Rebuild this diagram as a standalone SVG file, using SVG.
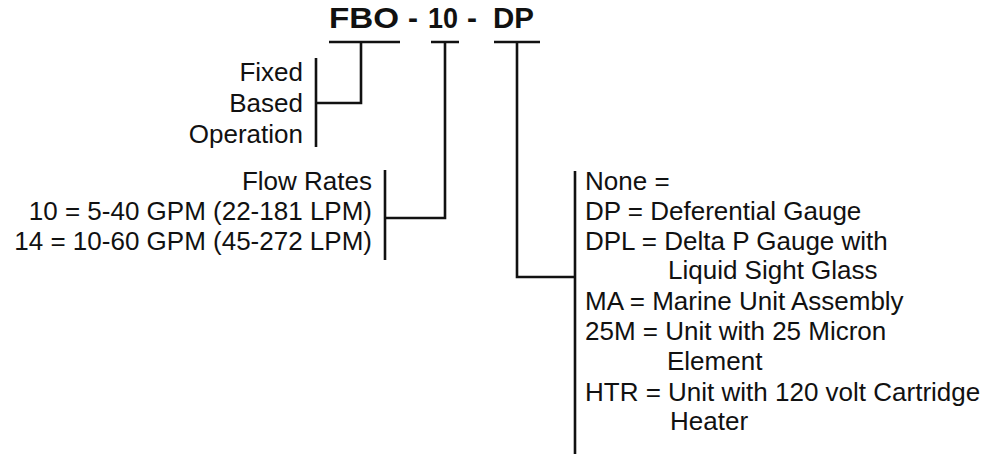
<svg xmlns="http://www.w3.org/2000/svg" width="998" height="455" viewBox="0 0 998 455">
<style>
text{font-family:"Liberation Sans",Arial,sans-serif;fill:#111;}
.t{font-size:30px;font-weight:bold;}
.l{font-size:26px;}
.r{text-anchor:end;}
.ln{stroke:#111;stroke-width:2.6;fill:none;stroke-linecap:butt;}
</style>
<rect width="998" height="455" fill="#fff"/>
<g id="title">
<text class="t" x="329" y="28" textLength="70" lengthAdjust="spacingAndGlyphs">FBO</text>
<text class="t" x="408" y="28">-</text>
<text class="t" x="428" y="28" textLength="30" lengthAdjust="spacingAndGlyphs">10</text>
<text class="t" x="467" y="28">-</text>
<text class="t" x="493" y="28" textLength="41" lengthAdjust="spacingAndGlyphs">DP</text>
</g>
<g id="node-fbo">
<text class="l r" x="303" y="81">Fixed</text>
<text class="l r" x="303" y="112">Based</text>
<text class="l r" x="303" y="143">Operation</text>
</g>
<g id="node-flow">
<text class="l r" x="372" y="190">Flow Rates</text>
<text class="l r" x="372" y="220">10 = 5-40 GPM (22-181 LPM)</text>
<text class="l r" x="372" y="250">14 = 10-60 GPM (45-272 LPM)</text>
</g>
<g id="node-options">
<text class="l" x="585" y="190">None =</text>
<text class="l" x="585" y="220">DP = Deferential Gauge</text>
<text class="l" x="585" y="250">DPL = Delta P Gauge with</text>
<text class="l" x="668" y="279">Liquid Sight Glass</text>
<text class="l" x="585" y="310">MA = Marine Unit Assembly</text>
<text class="l" x="585" y="340">25M = Unit with 25 Micron</text>
<text class="l" x="667" y="370">Element</text>
<text class="l" x="585" y="401">HTR = Unit with 120 volt Cartridge</text>
<text class="l" x="670" y="430">Heater</text>
</g>
<g id="connectors">
<path class="ln" d="M329 42H400M361 42V103H316M316 58V147"/>
<path class="ln" d="M431 42H459M445 42V218H385M385 170V260"/>
<path class="ln" d="M494 42H540M517 42V277H575M575 171V454"/>
</g>
</svg>
